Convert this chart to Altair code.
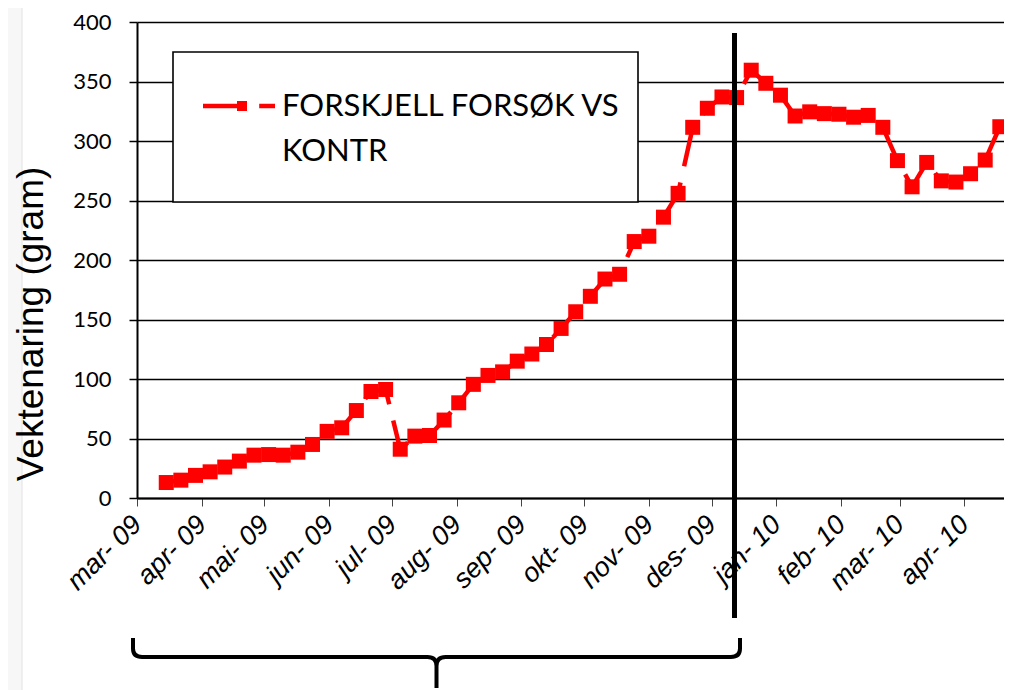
import json
import altair as alt
import pandas as pd

# ---- data ----
START_DATE = "2009-03-15"          # first weekly observation
VALUES = [13, 15, 19, 22, 26, 31, 36, 36.5, 36, 38.5,
          45, 56, 59, 73.5, 89.5, 91.2, 41, 52, 52.5, 65.5,
          80, 95.5, 103, 106, 115, 121, 129, 142.5, 156.5, 169.5,
          184, 188, 215.5, 220, 236, 256, 311.5, 327.5, 337, 336.5,
          359.5, 348.5, 338.5, 321, 324.5, 323, 322.5, 320, 321.5, 311.5,
          283.5, 261.5, 282, 266.5, 265.5, 272.5, 284, 312, 331]
DATES = [d.strftime("%Y-%m-%d") for d in pd.date_range(START_DATE, periods=len(VALUES), freq="7D")]

TICK_MONTHS = [(2009, 3), (2009, 4), (2009, 5), (2009, 6), (2009, 7), (2009, 8), (2009, 9),
               (2009, 10), (2009, 11), (2009, 12), (2010, 1), (2010, 2), (2010, 3), (2010, 4)]
TICK_LABELS = ["mar- 09", "apr- 09", "mai- 09", "jun- 09", "jul- 09", "aug- 09", "sep- 09",
               "okt- 09", "nov- 09", "des- 09", "jan- 10", "feb- 10", "mar- 10", "apr- 10"]
Y_TICKS = [0, 50, 100, 150, 200, 250, 300, 350, 400]
Y_TITLE = "Vektenaring (gram)"
LEGEND_LINES = ["FORSKJELL FORSØK VS", "KONTR"]
DIVIDER_DATE = (2009, 12, 12)

df = pd.DataFrame({"date": DATES, "value": VALUES})
one = pd.DataFrame({"k": [0]})

RED = "#ff0000"
DASH = [39.5, 16.7]

label_expr = json.dumps(TICK_LABELS) + "[(utcyear(datum.value)-2009)*12+utcmonth(datum.value)-2]"

x_enc = alt.X(
    "date:T",
    scale=alt.Scale(type="utc",
                    domain=[alt.DateTime(year=2009, month=3, date=1, utc=True),
                            alt.DateTime(year=2010, month=4, date=20, utc=True)]),
    axis=alt.Axis(
        values=[alt.DateTime(year=y, month=m, date=1, utc=True) for y, m in TICK_MONTHS],
        labelExpr=label_expr, labelAngle=315, labelAlign="right", labelBaseline="middle",
        labelFont="Liberation Sans", labelFontStyle="italic", labelFontSize=27,
        labelColor="black", labelPadding=14, labelOverlap=False, labelBound=False,
        labelFlush=False, tickSize=8, tickColor="#444444", tickWidth=1,
        domainColor="black", domainWidth=2, grid=False, title=None),
)
y_enc = alt.Y(
    "value:Q",
    scale=alt.Scale(domain=[0, 400], nice=False),
    axis=alt.Axis(
        values=Y_TICKS, grid=True, gridColor="black", gridWidth=1.5,
        labelFont="Lato", labelFontSize=22, labelColor="black", labelPadding=18,
        tickSize=8, tickColor="black", tickWidth=1.5,
        domainColor="black", domainWidth=2, title=None),
)

base = alt.Chart(df)

strip = alt.Chart(one).mark_rect(fill="#f7f7f7").encode(
    x=alt.value(-129), x2=alt.value(-115), y=alt.value(-14), y2=alt.value(668))
strip_line = alt.Chart(one).mark_rule(color="#e2e2e2", strokeWidth=1).encode(
    x=alt.value(-115), y=alt.value(-14), y2=alt.value(668))

line = base.mark_line(color=RED, strokeWidth=4.5, strokeDash=DASH, strokeCap="butt",
                      clip=True).encode(x=x_enc, y=y_enc)
pts = base.mark_point(shape="square", filled=True, size=225, color=RED, opacity=1,
                      clip=True).encode(x=x_enc, y=y_enc)

box = alt.Chart(one).mark_rect(fill="white", stroke="black", strokeWidth=1.6).encode(
    x=alt.value(36), x2=alt.value(501), y=alt.value(30), y2=alt.value(180))
leg_line = alt.Chart(one).mark_rule(color=RED, strokeWidth=4.5, strokeDash=DASH,
                                    strokeCap="butt").encode(
    x=alt.value(66), x2=alt.value(138), y=alt.value(84))
leg_pt = alt.Chart(one).mark_point(shape="square", filled=True, size=100, color=RED,
                                   opacity=1).encode(x=alt.value(105), y=alt.value(84))
leg_text = alt.Chart(one).mark_text(align="left", baseline="alphabetic", font="Lato",
                                    fontSize=31, lineHeight=45, color="black").encode(
    x=alt.value(145), y=alt.value(93.7), text=alt.value(LEGEND_LINES))

y_title = alt.Chart(one).mark_text(angle=270, font="Liberation Sans", fontSize=37,
                                   align="center", baseline="alphabetic",
                                   color="black").encode(
    x=alt.value(-94), y=alt.value(302), text=alt.value(Y_TITLE))

divider = alt.Chart(one).mark_rule(color="black", strokeWidth=5).encode(
    x=alt.X(datum=alt.DateTime(year=DIVIDER_DATE[0], month=DIVIDER_DATE[1],
                               date=DIVIDER_DATE[2], utc=True), type="temporal"),
    y=alt.value(11), y2=alt.value(596))

BRACE_PATH = ("M -1 -0.063 L -1 -0.028 Q -1 0 -0.97 0 L -0.03 0 Q 0 0 0 0.03 L 0 0.102 "
              "M 0 0.03 Q 0 0 0.03 0 L 0.97 0 Q 1 0 1 -0.028 L 1 -0.063")
brace = alt.Chart(one).mark_point(shape=BRACE_PATH, size=607 ** 2, filled=False,
                                  color="black", strokeWidth=4, opacity=1).encode(
    x=alt.value(299.5), y=alt.value(635))

chart = alt.layer(
    strip, strip_line, line, pts, box, leg_line, leg_pt, leg_text, y_title, divider, brace
).properties(
    width=867, height=476,
    padding={"left": 129, "top": 14, "right": 0, "bottom": 192},
    autosize=alt.AutoSizeParams(type="none"),
).configure_view(stroke=None)

chart.save("out.html", embed_options={"renderer": "svg", "actions": False})
